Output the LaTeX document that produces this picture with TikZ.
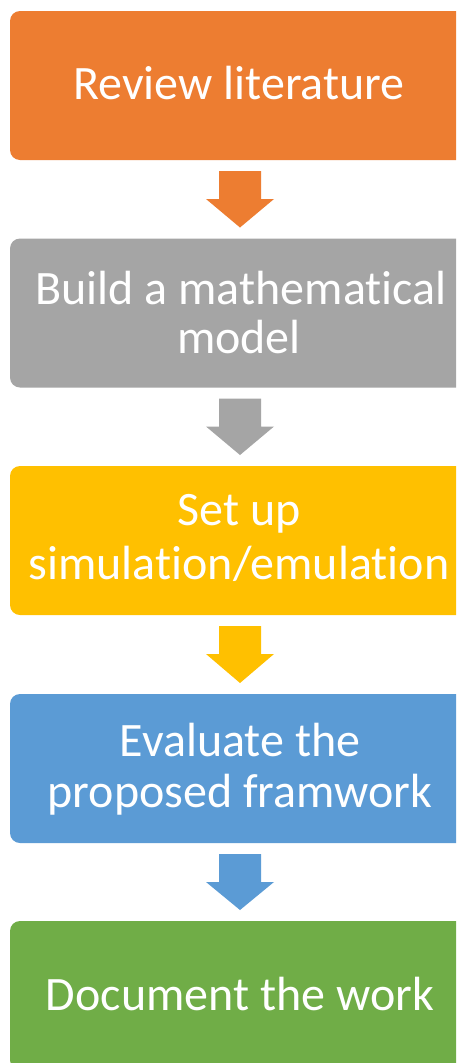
\documentclass[tikz,border=0pt]{standalone}
\usepackage{fontspec}
\setmainfont{Carlito}[Ligatures={NoCommon}]
\usetikzlibrary{calc}
\definecolor{stepOrange}{HTML}{ED7D31}
\definecolor{stepGray}{HTML}{A5A5A5}
\definecolor{stepGold}{HTML}{FFC000}
\definecolor{stepBlue}{HTML}{5B9BD5}
\definecolor{stepGreen}{HTML}{70AD47}
\tikzset{
  stepbox/.style={draw=none, rounded corners=10pt, minimum width=460pt,
    minimum height=149pt, inner sep=0pt, outer sep=0pt},
  steptext/.style={text=white, anchor=base, inner sep=0pt,
    font=\fontsize{48}{54}\selectfont},
}
\begin{document}
\begin{tikzpicture}[x=1pt, y=1pt]
  \useasboundingbox (0,0) rectangle (456,-1063);
  \clip (0,0) rectangle (456,-1063);
  \fill[white] (0,0) rectangle (456,-1063);

  % process steps
  \node[stepbox, fill=stepOrange] (b1) at (240,-85.5) {};
  \node[stepbox, fill=stepGray]   (b2) at (240,-313)  {};
  \node[stepbox, fill=stepGold]   (b3) at (240,-540.5) {};
  \node[stepbox, fill=stepBlue]   (b4) at (240,-768.5) {};
  \node[stepbox, fill=stepGreen]  (b5) at (240,-995.5) {};

  % labels, one node per line, placed on their baselines
  \node[steptext] (t1)  at (239,-99)  {Review literature};
  \node[steptext] (t2a) at (241,-304) {Build a mathematical};
  \node[steptext] (t2b) at (239,-353) {model};
  \node[steptext] (t3a) at (239,-525) {Set up};
  \node[steptext] (t3b) at (239,-579) {simulation/emulation};
  \node[steptext] (t4a) at (240,-756) {Evaluate the};
  \node[steptext] (t4b) at (240,-807) {proposed framwork};
  \node[steptext] (t5)  at (240,-1010) {Document the work};

  % block arrows between consecutive steps
  \foreach \a/\b/\c in {b1/b2/stepOrange, b2/b3/stepGray, b3/b4/stepGold, b4/b5/stepBlue}{
    \fill[\c] ($(\a.south)+(-21,-11)$) -- ($(\a.south)+(21,-11)$)
      -- ($(\a.south)+(21,-39)$) -- ($(\a.south)+(34,-39)$)
      -- ($(\b.north)+(0,11)$)
      -- ($(\a.south)+(-34,-39)$) -- ($(\a.south)+(-21,-39)$) -- cycle;
  }
\end{tikzpicture}
\end{document}
